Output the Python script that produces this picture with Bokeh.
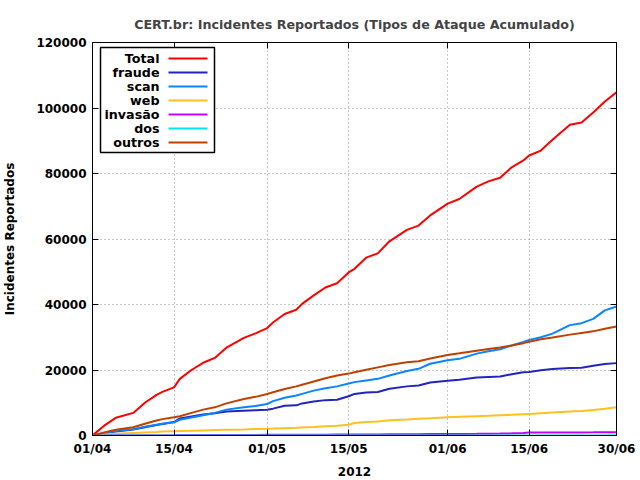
from datetime import datetime, timedelta
from bokeh.plotting import figure
from bokeh.models import (FixedTicker, DatetimeTickFormatter, LinearAxis, DatetimeAxis,
                          Range1d, Label, BoxAnnotation, CustomJSTickFormatter, BasicTickFormatter)
from bokeh.embed import file_html
from bokeh.resources import INLINE

# day offsets from 2012-04-01
days = [0, 2, 4, 7, 9, 11, 12, 14, 15, 17, 19, 21, 23, 26, 28, 30, 31, 33, 35, 36, 38, 40, 42,
        44, 45, 47, 49, 51, 54, 56, 58, 61, 63, 66, 68, 70, 72, 74, 75, 77, 79, 82, 84, 86, 88, 90]

total = [0, 3000, 5400, 6900, 10000, 12400, 13300, 14700, 17300, 20000, 22200, 23700, 26800,
         29800, 31200, 32800, 34500, 37100, 38400, 40200, 42800, 45200, 46500, 49800, 50900,
         54300, 55600, 59300, 62800, 64100, 67200, 70800, 72200, 76000, 77600, 78700, 81900,
         84000, 85500, 87000, 90300, 94900, 95600, 98600, 102000, 104800]
fraude = [0, 650, 1250, 1850, 2500, 3200, 3500, 4100, 5200, 5800, 6400, 6800, 7300, 7550, 7700,
          7850, 8200, 9100, 9200, 9800, 10400, 10800, 10900, 12000, 12700, 13100, 13300, 14300,
          15000, 15250, 16200, 16700, 17000, 17700, 17900, 18000, 18700, 19300, 19400, 19900,
          20300, 20600, 20700, 21300, 21800, 22100]
scan = [0, 700, 1350, 1900, 2700, 3300, 3600, 4050, 4800, 5500, 6200, 6900, 7900, 8600, 9000,
        9600, 10500, 11500, 12200, 12700, 13700, 14400, 15000, 15900, 16300, 16800, 17300, 18300,
        19700, 20350, 21900, 23000, 23400, 25000, 25700, 26350, 27500, 28600, 29200, 30000,
        31100, 33700, 34300, 35600, 38200, 39400]
web = [0, 300, 550, 800, 950, 1100, 1200, 1300, 1350, 1450, 1550, 1650, 1750, 1850, 1950, 2050,
       2100, 2250, 2350, 2450, 2600, 2800, 3000, 3300, 3800, 4100, 4300, 4650, 4900, 5100, 5250,
       5550, 5750, 5900, 6000, 6150, 6300, 6500, 6600, 6800, 7000, 7300, 7500, 7800, 8200, 8650]
invasao = [0, 30, 50, 70, 90, 100, 110, 120, 130, 140, 150, 160, 170, 180, 190, 200, 210, 220,
           230, 240, 250, 260, 270, 290, 300, 320, 340, 360, 380, 400, 420, 450, 480, 520, 560,
           600, 650, 800, 900, 950, 920, 930, 950, 960, 980, 1000]
dos = [0, 1, 2, 3, 4, 5, 5, 6, 6, 7, 8, 9, 10, 11, 12, 13, 13, 14, 15, 15, 16, 17, 18, 19, 19,
       20, 21, 22, 23, 24, 25, 26, 27, 28, 29, 30, 31, 32, 32, 33, 34, 35, 36, 37, 38, 39]
outros = [0, 900, 1750, 2500, 3600, 4600, 5000, 5550, 5900, 6900, 7900, 8600, 9800, 11150, 11800,
          12650, 13200, 14200, 15000, 15500, 16500, 17500, 18300, 18900, 19300, 20100, 20800,
          21500, 22400, 22700, 23500, 24600, 25100, 25900, 26400, 26900, 27500, 28200, 28600,
          29400, 29900, 30800, 31300, 31800, 32600, 33300]

series_names = ["Total", "fraude", "scan", "web", "invasão", "dos", "outros"]
series_values = [total, fraude, scan, web, invasao, dos, outros]
series_colors = ["#ff0000", "#2323c0", "#0a84ff", "#ffc020", "#c800ff", "#00e8e8", "#c04000"]

tick_dates = ["2012-04-01", "2012-04-15", "2012-05-01", "2012-05-15",
              "2012-06-01", "2012-06-15", "2012-06-30"]
y_ticks = [0, 20000, 40000, 60000, 80000, 100000, 120000]

start = datetime(2012, 4, 1)
dates = [start + timedelta(days=d) for d in days]
epoch = datetime(1970, 1, 1)
tick_ms = [(datetime.strptime(t, "%Y-%m-%d") - epoch).total_seconds() * 1000 for t in tick_dates]

FONT = "DejaVu Sans"

p = figure(width=640, height=480, x_axis_type="datetime", output_backend="svg",
           toolbar_location=None,
           x_range=Range1d(datetime(2012, 4, 1), datetime(2012, 6, 30)),
           y_range=Range1d(0, 120000),
           min_border_left=90, min_border_right=24, min_border_top=42, min_border_bottom=45,
           title="CERT.br: Incidentes Reportados (Tipos de Ataque Acumulado)")
p.background_fill_color = "white"
p.border_fill_color = "white"
p.outline_line_color = "black"
p.outline_line_width = 1

p.title.align = "center"
p.title.text_font = FONT
p.title.text_font_size = "12.7px"
p.title.text_font_style = "bold"
p.title.offset = 0
p.title.standoff = 21

xticker = FixedTicker(ticks=tick_ms)
yticker = FixedTicker(ticks=y_ticks)

xa = p.xaxis[0]
xa.ticker = xticker
xa.formatter = DatetimeTickFormatter(days="%d/%m", months="%d/%m", hours="%d/%m", years="%d/%m")
xa.axis_label = "2012"
ya = p.yaxis[0]
ya.ticker = yticker
ya.formatter = BasicTickFormatter(use_scientific=False)
ya.axis_label = "Incidentes Reportados"

for ax in (xa, ya):
    ax.major_label_text_font = FONT
    ax.major_label_text_font_size = "12px"
    ax.major_label_text_font_style = "bold"
    ax.major_label_text_color = "black"
    ax.axis_label_text_font = FONT
    ax.axis_label_text_font_size = "12px"
    ax.axis_label_text_font_style = "bold"
    ax.axis_label_text_color = "black"
    ax.major_tick_in = 6
    ax.major_tick_out = 0
    ax.minor_tick_line_color = None
    ax.axis_line_color = "black"
    ax.major_tick_line_color = "black"
    ax.major_label_standoff = 6
xa.axis_label_standoff = 8
ya.axis_label_standoff = 16

blank = CustomJSTickFormatter(code="return ''")
ra = LinearAxis(ticker=yticker, formatter=blank, major_tick_in=6, major_tick_out=0,
                minor_tick_line_color=None, major_label_standoff=0)
ta = DatetimeAxis(ticker=xticker, formatter=blank, major_tick_in=6, major_tick_out=0,
                  minor_tick_line_color=None, major_label_standoff=0)
p.add_layout(ra, "right")
p.add_layout(ta, "above")

for g in (p.xgrid[0], p.ygrid[0]):
    g.ticker = xticker if g is p.xgrid[0] else yticker
    g.grid_line_color = "#909090"
    g.grid_line_dash = "1 3"
    g.grid_line_width = 1

for name, vals, col in zip(series_names, series_values, series_colors):
    p.line(dates, vals, line_color=col, line_width=2)

# gnuplot-style legend (labels on the left, line samples on the right)
p.add_layout(BoxAnnotation(left=8, right=122, top=388, bottom=283,
                           left_units="screen", right_units="screen",
                           top_units="screen", bottom_units="screen",
                           fill_color="white", fill_alpha=1,
                           line_color="black", line_alpha=1, line_width=1.5,
                           level="overlay"))
for i, (name, col) in enumerate(zip(series_names, series_colors)):
    yc = 377 - 14 * i
    p.add_layout(Label(x=67, y=yc, x_units="screen", y_units="screen", text=name,
                       text_align="right", text_baseline="middle",
                       text_font=FONT, text_font_size="12.7px", text_font_style="bold",
                       text_color="black", level="overlay"))
    p.add_layout(BoxAnnotation(left=76, right=115, top=yc + 1, bottom=yc - 1,
                               left_units="screen", right_units="screen",
                               top_units="screen", bottom_units="screen",
                               fill_color=col, fill_alpha=1, line_color=None,
                               level="overlay"))

open("out.html", "w").write(file_html(p, INLINE))
